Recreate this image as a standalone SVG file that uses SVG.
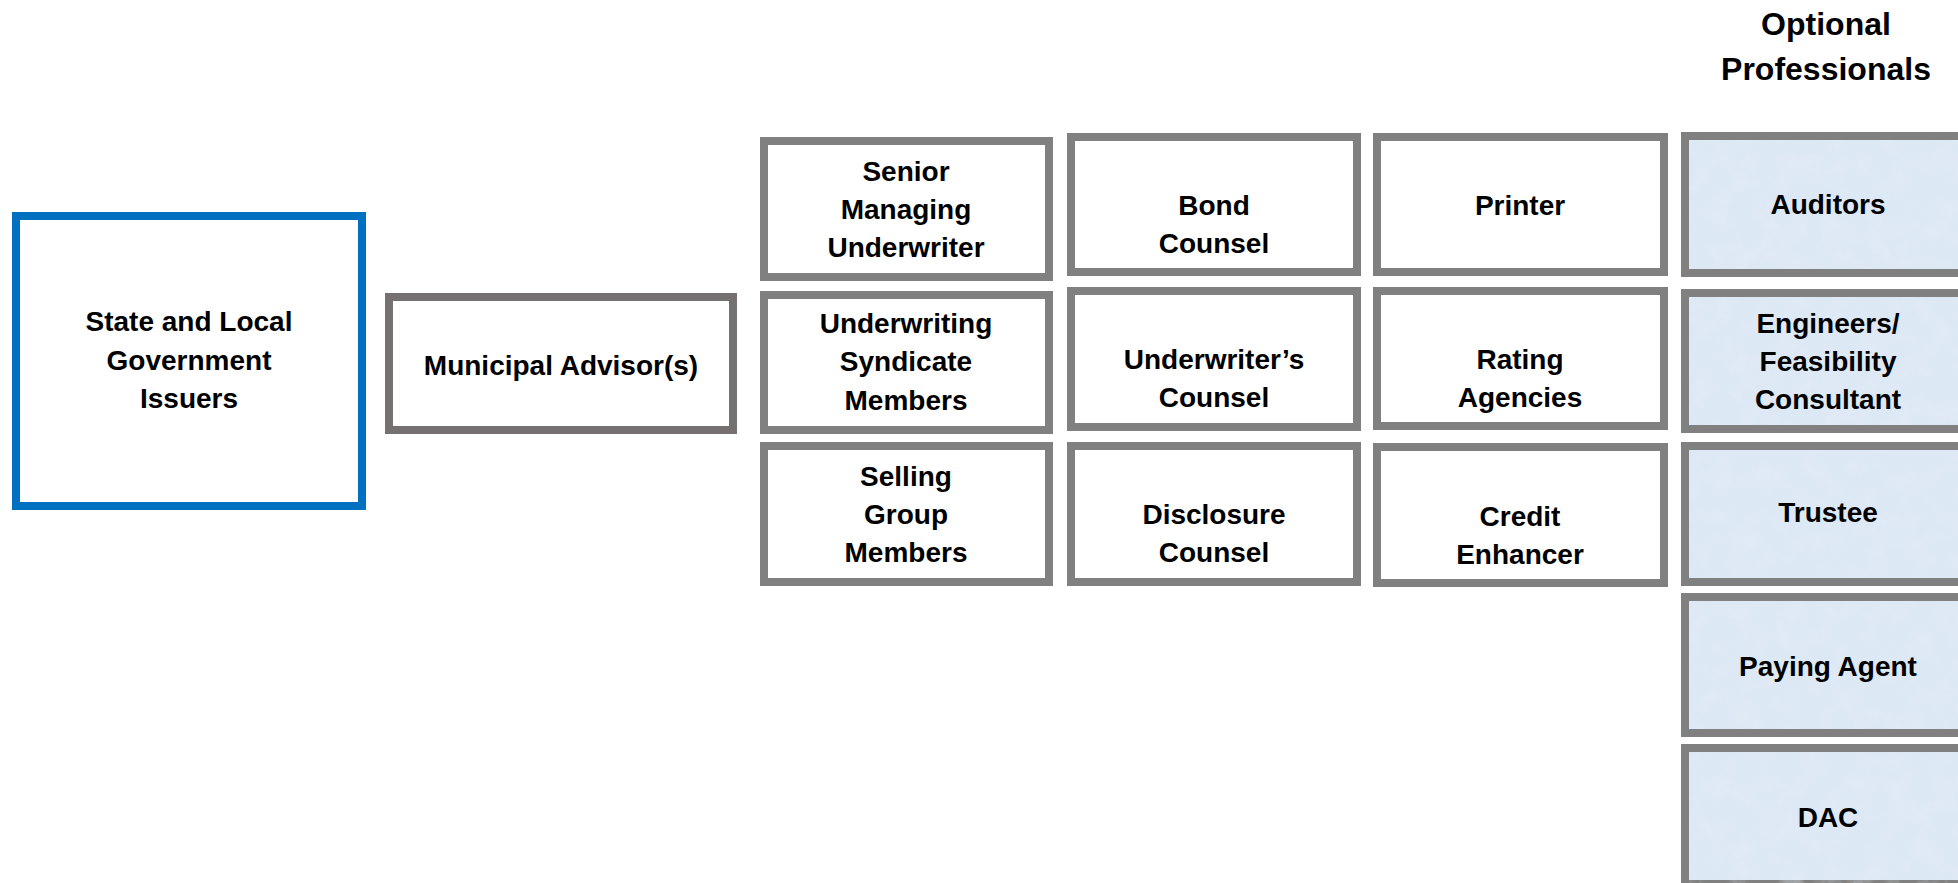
<svg xmlns="http://www.w3.org/2000/svg" width="1958" height="883" viewBox="0 0 1958 883">
  <style>
    .box { fill: #ffffff; stroke: #808080; stroke-width: 8; }
    .adv { fill: #ffffff; stroke: #767171; stroke-width: 8; }
    .issuer { fill: #ffffff; stroke: #0070C0; stroke-width: 8; }
    .opt { fill: #DDE8F5; stroke: #808080; stroke-width: 8; }
    .t { font-family: "Liberation Sans", Arial, sans-serif; font-weight: bold; font-size: 28px; fill: #000000; text-anchor: middle; }
    .h { font-family: "Liberation Sans", Arial, sans-serif; font-weight: bold; font-size: 32px; fill: #000000; text-anchor: middle; }
  </style>
  <defs>
    <filter id="tex" x="0" y="0" width="100%" height="100%" filterUnits="objectBoundingBox">
      <feTurbulence type="fractalNoise" baseFrequency="0.045" numOctaves="4" seed="7" result="n"/>
      <feColorMatrix in="n" type="matrix" values="0 0 0 0 0.78  0 0 0 0 0.85  0 0 0 0 0.93  1.6 0 0 0 -0.7" result="c"/>
      <feComposite in="c" in2="SourceGraphic" operator="in"/>
    </filter>
  </defs>
  <rect width="1958" height="883" fill="#ffffff"/>

  <g id="header">
    <text class="h" x="1826" y="35">Optional</text>
    <text class="h" x="1826" y="80">Professionals</text>
  </g>

  <g id="connectors"></g>

  <g id="issuers">
    <rect class="issuer" x="16" y="216" width="346" height="290"/>
    <text class="t" x="189" y="331">State and Local</text>
    <text class="t" x="189" y="370">Government</text>
    <text class="t" x="189" y="408">Issuers</text>
  </g>

  <g id="municipal-advisor">
    <rect class="adv" x="389" y="297" width="344" height="133"/>
    <text class="t" x="561" y="375">Municipal Advisor(s)</text>
  </g>

  <g id="senior-managing-underwriter">
    <rect class="box" x="764" y="141" width="285" height="136"/>
    <text class="t" x="906" y="181">Senior</text>
    <text class="t" x="906" y="219">Managing</text>
    <text class="t" x="906" y="257">Underwriter</text>
  </g>
  <g id="underwriting-syndicate">
    <rect class="box" x="764" y="295" width="285" height="135"/>
    <text class="t" x="906" y="333">Underwriting</text>
    <text class="t" x="906" y="371">Syndicate</text>
    <text class="t" x="906" y="410">Members</text>
  </g>
  <g id="selling-group">
    <rect class="box" x="764" y="446" width="285" height="136"/>
    <text class="t" x="906" y="486">Selling</text>
    <text class="t" x="906" y="524">Group</text>
    <text class="t" x="906" y="562">Members</text>
  </g>

  <g id="bond-counsel">
    <rect class="box" x="1071" y="137" width="286" height="135"/>
    <text class="t" x="1214" y="215">Bond</text>
    <text class="t" x="1214" y="253">Counsel</text>
  </g>
  <g id="underwriters-counsel">
    <rect class="box" x="1071" y="291" width="286" height="136"/>
    <text class="t" x="1214" y="369">Underwriter’s</text>
    <text class="t" x="1214" y="407">Counsel</text>
  </g>
  <g id="disclosure-counsel">
    <rect class="box" x="1071" y="446" width="286" height="136"/>
    <text class="t" x="1214" y="524">Disclosure</text>
    <text class="t" x="1214" y="562">Counsel</text>
  </g>

  <g id="printer">
    <rect class="box" x="1377" y="137" width="287" height="135"/>
    <text class="t" x="1520" y="215">Printer</text>
  </g>
  <g id="rating-agencies">
    <rect class="box" x="1377" y="291" width="287" height="135"/>
    <text class="t" x="1520" y="369">Rating</text>
    <text class="t" x="1520" y="407">Agencies</text>
  </g>
  <g id="credit-enhancer">
    <rect class="box" x="1377" y="447" width="287" height="136"/>
    <text class="t" x="1520" y="526">Credit</text>
    <text class="t" x="1520" y="564">Enhancer</text>
  </g>

  <g id="auditors">
    <rect class="opt" x="1685" y="136" width="300" height="137"/>
    <rect x="1689" y="140" width="269" height="129" fill="#ffffff" filter="url(#tex)" opacity="0.7"/>
    <text class="t" x="1828" y="214">Auditors</text>
  </g>
  <g id="engineers">
    <rect class="opt" x="1685" y="293" width="300" height="136"/>
    <rect x="1689" y="297" width="269" height="128" fill="#ffffff" filter="url(#tex)" opacity="0.7"/>
    <text class="t" x="1828" y="333">Engineers/</text>
    <text class="t" x="1828" y="371">Feasibility</text>
    <text class="t" x="1828" y="409">Consultant</text>
  </g>
  <g id="trustee">
    <rect class="opt" x="1685" y="446" width="300" height="136"/>
    <rect x="1689" y="450" width="269" height="128" fill="#ffffff" filter="url(#tex)" opacity="0.7"/>
    <text class="t" x="1828" y="522">Trustee</text>
  </g>
  <g id="paying-agent">
    <rect class="opt" x="1685" y="597" width="300" height="136"/>
    <rect x="1689" y="601" width="269" height="128" fill="#ffffff" filter="url(#tex)" opacity="0.7"/>
    <text class="t" x="1828" y="676">Paying Agent</text>
  </g>
  <g id="dac">
    <rect class="opt" x="1685" y="748" width="300" height="136"/>
    <rect x="1689" y="752" width="269" height="131" fill="#ffffff" filter="url(#tex)" opacity="0.7"/>
    <text class="t" x="1828" y="827">DAC</text>
  </g>
</svg>
